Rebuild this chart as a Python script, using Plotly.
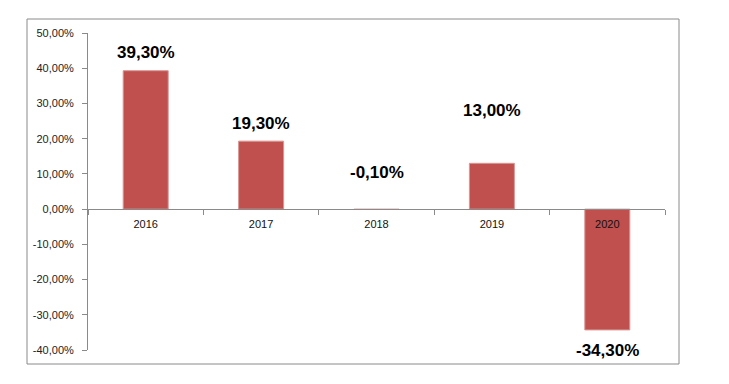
import plotly.graph_objects as go

years = ["2016", "2017", "2018", "2019", "2020"]
returns = [39.3, 19.3, -0.1, 13.0, -34.3]
value_labels = ["39,30%", "19,30%", "-0,10%", "13,00%", "-34,30%"]
y_tickvals = [50, 40, 30, 20, 10, 0, -10, -20, -30, -40]
y_ticktext = ["50,00%", "40,00%", "30,00%", "20,00%", "10,00%", "0,00%",
              "-10,00%", "-20,00%", "-30,00%", "-40,00%"]

label_shift = [18, 18, 37, 53, -21]

fig = go.Figure()
fig.add_trace(go.Bar(
    x=years, y=returns,
    marker=dict(color="#C0504D", line=dict(color="#D99694", width=1)),
    width=0.39,
))

for i, (v, t, s) in enumerate(zip(returns, value_labels, label_shift)):
    fig.add_annotation(x=i, y=v, text="<b>%s</b>" % t, showarrow=False,
                       yshift=s, yanchor="middle",
                       font=dict(family="Arial", size=17, color="#000000"))

pw, ph = 577, 317
fig.add_shape(type="rect", xref="paper", yref="paper",
              x0=-61 / pw, x1=(679 - 88) / pw,
              y0=-(364 - 350) / ph, y1=1 + (33 - 19) / ph,
              line=dict(color="#8a8a8a", width=1), fillcolor="rgba(0,0,0,0)",
              layer="below")

fig.update_layout(
    width=729, height=384,
    margin=dict(l=80, r=72, t=25, b=42),
    paper_bgcolor="white", plot_bgcolor="white",
    showlegend=False,
    font=dict(family="Arial", size=11, color="#222"),
    xaxis=dict(
        type="category", range=[-0.5, 4.5],
        anchor="free", position=4 / 9,
        showline=True, linecolor="#8a8a8a", linewidth=1,
        ticks="outside", tickson="boundaries", ticklen=5, tickcolor="#8a8a8a",
        ticklabelstandoff=5,
        showgrid=False, zeroline=False,
        tickfont=dict(family="Arial", size=11, color="#111"),
    ),
    yaxis=dict(
        range=[-40, 50], tickvals=y_tickvals, ticktext=y_ticktext,
        showline=True, linecolor="#8a8a8a", linewidth=1,
        ticks="outside", ticklen=5, tickcolor="#8a8a8a",
        ticklabelstandoff=6,
        showgrid=False, zeroline=False,
        tickfont=dict(family="Arial", size=11, color="#222"),
    ),
)

fig.write_html("out.html")
